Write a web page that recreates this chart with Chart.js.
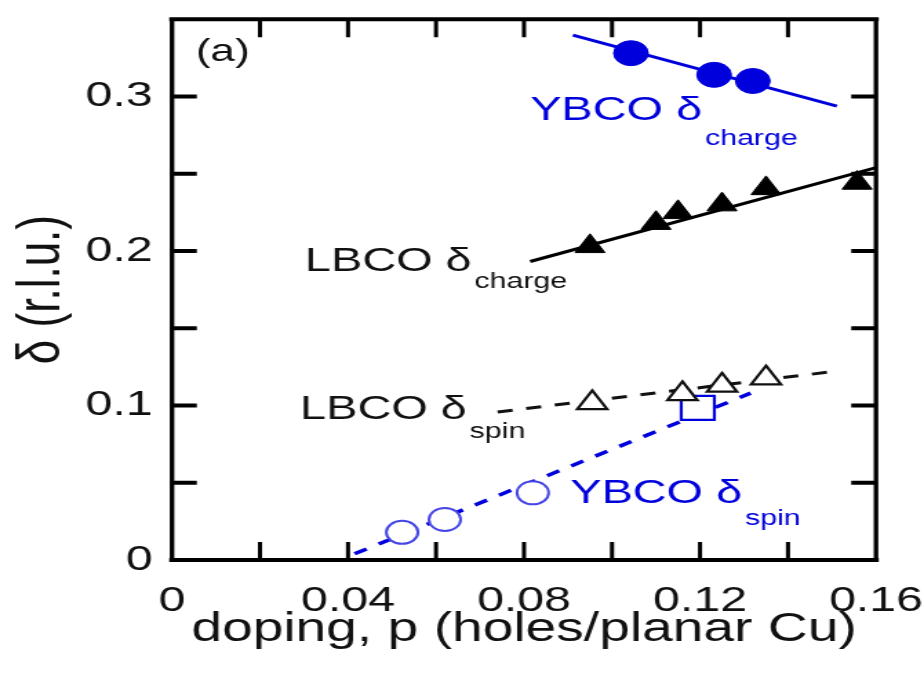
<!DOCTYPE html>
<html><head><meta charset="utf-8">
<script src="https://cdn.jsdelivr.net/npm/chart.js@4.4.1/dist/chart.umd.min.js"></script>
<style>html,body{margin:0;padding:0;background:#fff;overflow:hidden}
#c{display:block}</style>
</head><body>
<canvas id="c" width="670" height="677" style="width:924px;height:677px"></canvas>
<script>
// ---- data (doping p, incommensurability delta) ----
const ybcoChargeP = [0.1043, 0.1232, 0.1320];
const ybcoChargeDelta = [0.328, 0.314, 0.310];
const ybcoChargeFitP = [0.0911, 0.1511];
const ybcoChargeFitDelta = [0.3397, 0.2937];

const lbcoChargeP = [0.095, 0.110, 0.115, 0.125, 0.135, 0.1557];
const lbcoChargeDelta = [0.203, 0.218, 0.225, 0.230, 0.2405, 0.244];
const lbcoChargeFitP = [0.0814, 0.16];
const lbcoChargeFitDelta = [0.1932, 0.254];

const lbcoSpinP = [0.0955, 0.116, 0.125, 0.135];
const lbcoSpinDelta = [0.1017, 0.1075, 0.113, 0.1177];
const lbcoSpinFitP = [0.074, 0.151];
const lbcoSpinFitDelta = [0.0958, 0.1222];

const ybcoSpinP = [0.0523, 0.062, 0.082];
const ybcoSpinDelta = [0.0179, 0.0262, 0.0435];
const ybcoSpinSquareP = [0.1195];
const ybcoSpinSquareDelta = [0.0985];
const ybcoSpinFitP = [0.0415, 0.1315];
const ybcoSpinFitDelta = [0.004, 0.108];

const xTickStep = 0.04, xMinorStep = 0.02, xMin = 0, xMax = 0.16;
const yTickStep = 0.1, yMinorStep = 0.05, yMin = 0, yMax = 0.35;

const BLUE = '#0000dc';
const LIGHTBLUE = '#4646e6';
const FONT = '"Liberation Sans", Arial, Helvetica, sans-serif';

const pts = (xs, ys) => xs.map((v, i) => ({x: v, y: ys[i]}));

const annotations = [
  {text: '(a)', p: 0.0054, d: 0.3289, size: 32, color: '#111'},
  {text: 'YBCO δ', sub: 'charge', p: 0.0814, d: 0.291, size: 34, subSize: 22, subDy: 29, color: BLUE},
  {text: 'LBCO δ', sub: 'charge', p: 0.0302, d: 0.1932, size: 34, subSize: 22, subDy: 20, color: '#111'},
  {text: 'LBCO δ', sub: 'spin', p: 0.0291, d: 0.0972, size: 34, subSize: 22, subDy: 22, color: '#111'},
  {text: 'YBCO δ', sub: 'spin', p: 0.0905, d: 0.0429, size: 34, subSize: 22, subDy: 25, color: BLUE}
];

const framePlugin = {
  id: 'frame',
  afterDatasetsDraw(chart) {
    const {ctx, chartArea: a, scales: {x, y}} = chart;
    ctx.save();
    ctx.strokeStyle = '#000';
    ctx.lineCap = 'butt';
    ctx.lineWidth = 3;
    for (let v = xMin + xMinorStep; v < xMax - 1e-9; v += xMinorStep) {
      const px = x.getPixelForValue(v);
      ctx.beginPath();
      ctx.moveTo(px, a.bottom); ctx.lineTo(px, a.bottom - 18);
      ctx.moveTo(px, a.top); ctx.lineTo(px, a.top + 18);
      ctx.stroke();
    }
    ctx.lineWidth = 4;
    for (let v = yMin + yMinorStep; v < yMax - 1e-9; v += yMinorStep) {
      const py = y.getPixelForValue(v);
      ctx.beginPath();
      ctx.moveTo(a.left, py); ctx.lineTo(a.left + 18, py);
      ctx.moveTo(a.right, py); ctx.lineTo(a.right - 18, py);
      ctx.stroke();
    }
    ctx.lineWidth = 4;
    ctx.beginPath();
    ctx.moveTo(a.left - 2, a.top); ctx.lineTo(a.right + 2, a.top);
    ctx.moveTo(a.left - 2, a.bottom); ctx.lineTo(a.right + 2, a.bottom);
    ctx.stroke();
    ctx.lineWidth = 3.3;
    ctx.beginPath();
    ctx.moveTo(a.left, a.top); ctx.lineTo(a.left, a.bottom + 2);
    ctx.moveTo(a.right, a.top); ctx.lineTo(a.right, a.bottom + 2);
    ctx.stroke();
    ctx.textAlign = 'left';
    ctx.textBaseline = 'middle';
    for (const L of annotations) {
      const px = x.getPixelForValue(L.p), py = y.getPixelForValue(L.d);
      ctx.fillStyle = L.color;
      ctx.font = L.size + 'px ' + FONT;
      ctx.fillText(L.text, px, py);
      if (L.sub) {
        const w = ctx.measureText(L.text).width;
        ctx.font = L.subSize + 'px ' + FONT;
        ctx.fillText(L.sub, px + w + 2, py + L.subDy);
      }
    }
    ctx.restore();
  }
};

new Chart(document.getElementById('c'), {
  type: 'scatter',
  data: {
    datasets: [
      {data: pts(ybcoChargeP, ybcoChargeDelta), pointStyle: 'circle', pointRadius: 12.5,
       backgroundColor: BLUE, borderColor: BLUE, borderWidth: 1, order: 0},
      {data: pts(lbcoChargeP, lbcoChargeDelta), pointStyle: 'triangle', pointRadius: 12.5,
       backgroundColor: '#000', borderColor: '#000', borderWidth: 1, order: 0},
      {data: pts(lbcoSpinP, lbcoSpinDelta), pointStyle: 'triangle', pointRadius: 12.5,
       backgroundColor: '#fff', borderColor: '#111', borderWidth: 2.2, order: 0},
      {data: pts(ybcoSpinP, ybcoSpinDelta), pointStyle: 'circle', pointRadius: 11.5,
       backgroundColor: '#fff', borderColor: LIGHTBLUE, borderWidth: 2, order: 0},
      {data: pts(ybcoSpinSquareP, ybcoSpinSquareDelta), pointStyle: 'rect', pointRadius: 17,
       backgroundColor: '#fff', borderColor: BLUE, borderWidth: 2.2, order: 0},
      {data: pts(ybcoChargeFitP, ybcoChargeFitDelta), showLine: true, pointRadius: 0,
       borderColor: BLUE, borderWidth: 3, order: 1},
      {data: pts(lbcoChargeFitP, lbcoChargeFitDelta), showLine: true, pointRadius: 0,
       borderColor: '#000', borderWidth: 3, order: 1},
      {data: pts(lbcoSpinFitP, lbcoSpinFitDelta), showLine: true, pointRadius: 0,
       borderColor: '#111', borderWidth: 3, borderDash: [11, 10], order: 1},
      {data: pts(ybcoSpinFitP, ybcoSpinFitDelta), showLine: true, pointRadius: 0,
       borderColor: BLUE, borderWidth: 3.5, borderDash: [10, 10], order: 1}
    ]
  },
  options: {
    responsive: false,
    animation: false,
    events: [],
    layout: {padding: {left: 0, right: 34.8, top: 12, bottom: 0}},
    plugins: {legend: {display: false}, tooltip: {enabled: false}},
    scales: {
      x: {
        type: 'linear', min: xMin, max: xMax,
        border: {display: false},
        grid: {display: false, drawTicks: false},
        ticks: {stepSize: xTickStep, padding: 20, color: '#111', maxRotation: 0, autoSkip: false,
                font: {family: FONT, size: 35}},
        title: {display: true, text: 'doping, p (holes/planar Cu)', color: '#111',
                font: {family: FONT, size: 40}, padding: {top: 0, bottom: 23}},
        afterFit(s) { s.height = 117; s.paddingLeft = 0; s.paddingRight = 0; }
      },
      y: {
        type: 'linear', min: yMin, max: yMax,
        border: {display: false},
        grid: {display: false, drawTicks: false},
        ticks: {stepSize: yTickStep, includeBounds: false, padding: 14, color: '#111',
                font: {family: FONT, size: 35}},
        title: {display: true, text: 'δ (r.l.u.)', color: '#111',
                font: {family: FONT, size: 44}, padding: {top: 4, bottom: 0}},
        afterFit(s) { s.width = 124.72; s.paddingTop = 0; s.paddingBottom = 0; }
      }
    }
  },
  plugins: [framePlugin]
});
</script>
</body></html>
